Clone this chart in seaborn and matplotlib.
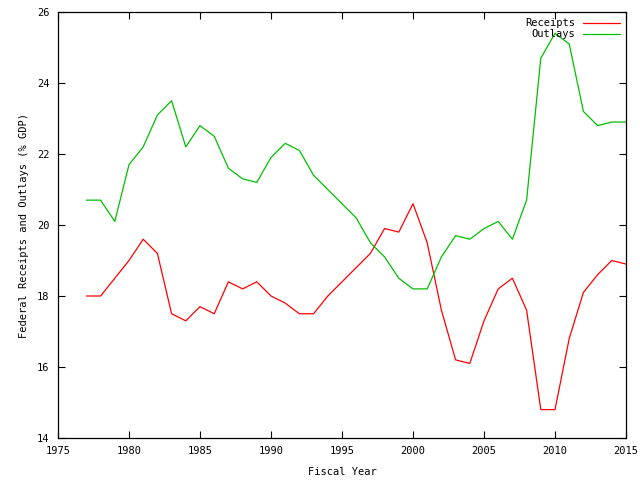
import numpy as np
import pandas as pd
import matplotlib
matplotlib.use("Agg")
import matplotlib.pyplot as plt
import seaborn as sns

# data
years = list(range(1977, 2016))
receipts = [18.0, 18.0, 18.5, 19.0, 19.6, 19.2, 17.5, 17.3, 17.7, 17.5,
            18.4, 18.2, 18.4, 18.0, 17.8, 17.5, 17.5, 18.0, 18.4, 18.8,
            19.2, 19.9, 19.8, 20.6, 19.5, 17.6, 16.2, 16.1, 17.3, 18.2,
            18.5, 17.6, 14.8, 14.8, 16.8, 18.1, 18.6, 19.0, 18.9]
outlays = [20.7, 20.7, 20.1, 21.7, 22.2, 23.1, 23.5, 22.2, 22.8, 22.5,
           21.6, 21.3, 21.2, 21.9, 22.3, 22.1, 21.4, 21.0, 20.6, 20.2,
           19.5, 19.1, 18.5, 18.2, 18.2, 19.1, 19.7, 19.6, 19.9, 20.1,
           19.6, 20.7, 24.7, 25.4, 25.1, 23.2, 22.8, 22.9, 22.9]

df = pd.DataFrame({"year": years * 2,
                   "value": receipts + outlays,
                   "series": ["Receipts"] * len(years) + ["Outlays"] * len(years)})

sns.set_style("ticks")
plt.rcParams['font.family'] = ['DejaVu Sans Mono']
plt.rcParams['xtick.direction'] = 'in'
plt.rcParams['ytick.direction'] = 'in'
plt.rcParams['text.color'] = 'black'
plt.rcParams['axes.labelcolor'] = 'black'
plt.rcParams['xtick.color'] = 'black'
plt.rcParams['ytick.color'] = 'black'

fig = plt.figure(figsize=(6.4, 4.8), dpi=100)
ax = fig.add_axes([58/640, 1 - 438/480, (626-58)/640, (438-12)/480])

sns.lineplot(data=df, x="year", y="value", hue="series",
             palette={"Receipts": "#ff0000", "Outlays": "#00c000"},
             linewidth=0.9, ax=ax)

ax.set_xlim(1975, 2015)
ax.set_ylim(14, 26)
ax.set_xticks(range(1975, 2016, 5))
ax.set_yticks(range(14, 27, 2))
ax.tick_params(top=True, right=True, labelsize=7.5, length=5, width=0.8, pad=6)
for s in ax.spines.values():
    s.set_linewidth(0.9)
    s.set_color("black")
ax.set_xlabel("Fiscal Year", fontsize=7.5, labelpad=8)
ax.set_ylabel("Federal Receipts and Outlays (% GDP)", fontsize=7.5, labelpad=6)

ax.legend(loc="upper right", frameon=False, markerfirst=False, fontsize=7.5,
          handlelength=3.5, labelspacing=0.1, borderaxespad=0.2, title=None)

fig.savefig("out.png", dpi=100)
